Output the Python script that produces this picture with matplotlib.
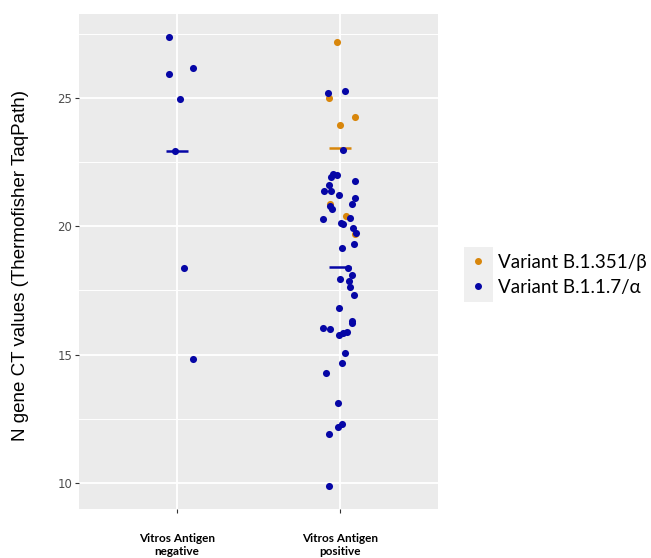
import numpy as np
import matplotlib
matplotlib.use("Agg")
import matplotlib.pyplot as plt
from matplotlib.lines import Line2D
from matplotlib.patches import Rectangle

# ---------------------------------
# Data
# ---------------------------------
categories = ["Vitros Antigen\nnegative", "Vitros Antigen\npositive"]

neg_alpha_ct = [27.37, 26.19, 25.95, 24.97, 22.95, 18.37, 14.81]
neg_alpha_jit = [-0.05, 0.10, -0.05, 0.02, -0.01, 0.045, 0.096]

pos_beta_ct = [27.2, 25.01, 24.26, 23.95, 20.86, 20.41, 19.71]
pos_beta_jit = [-0.02, -0.07, 0.09, 0.0, -0.063, 0.037, 0.09]

pos_alpha_ct = [25.19, 25.26, 22.99, 22.03, 21.99, 21.93, 21.76, 21.63, 21.37, 21.37,
                21.21, 21.10, 20.86, 20.81, 20.68, 20.28, 20.33, 20.12, 20.10, 19.95,
                19.75, 19.33, 19.16, 18.37, 18.09, 17.95, 17.87, 17.62, 17.32, 16.82,
                16.31, 16.23, 16.05, 16.01, 15.88, 15.84, 15.78, 15.07, 14.66, 14.27,
                13.12, 12.28, 12.19, 11.89, 9.86]
pos_alpha_jit = [-0.072, 0.029, 0.018, -0.045, -0.017, -0.055, 0.09, -0.069, -0.1, -0.055,
                 -0.006, 0.092, 0.074, -0.06, -0.047, -0.102, 0.059, 0.004, 0.018, 0.078,
                 0.096, 0.084, 0.014, 0.051, 0.074, 0.002, 0.054, 0.059, 0.088, -0.006,
                 0.076, 0.074, -0.102, -0.06, 0.041, 0.018, -0.006, 0.029, 0.014, -0.088,
                 -0.01, 0.01, -0.01, -0.069, -0.065]

legend_labels = ["Variant B.1.351/\u03b2", "Variant B.1.1.7/\u03b1"]
BETA_COL = "#D8860B"
ALPHA_COL = "#0606A6"

# ---------------------------------
# Figure
# ---------------------------------
W, H = 651, 558
fig = plt.figure(figsize=(W / 100, H / 100), dpi=100)
ax = fig.add_axes([79 / W, 1 - 509 / H, (438 - 79) / W, (509 - 14) / H])

ax.set_facecolor("#EBEBEB")
for s in ax.spines.values():
    s.set_visible(False)

ax.set_xlim(0.4, 2.6)
ax.set_ylim(8.98, 28.28)
ax.set_xticks([1, 2])
ax.set_xticklabels(categories, fontsize=8.5, fontweight="bold", family=["Lato", "DejaVu Sans"],
                   linespacing=1.3)
ax.set_yticks([10, 15, 20, 25])
ax.set_yticks([12.5, 17.5, 22.5, 27.5], minor=True)
ax.tick_params(axis="y", which="major", labelsize=8.5, labelcolor="#4D4D4D",
               color="#333333", length=3, width=0.8, pad=2)
ax.tick_params(axis="y", which="minor", length=0)
ax.tick_params(axis="x", length=3, width=0.8, color="#333333", pad=14)
ax.grid(which="major", color="white", linewidth=1.3)
ax.grid(which="minor", axis="y", color="white", linewidth=0.7)
ax.set_axisbelow(True)

# mean bars
def mean_bar(xc, vals, col):
    m = np.mean(vals)
    ax.plot([xc - 0.067, xc + 0.067], [m, m], color=col, lw=1.8, solid_capstyle="butt", zorder=2)

mean_bar(1, neg_alpha_ct, ALPHA_COL)
mean_bar(2, pos_beta_ct, BETA_COL)
mean_bar(2, pos_alpha_ct, ALPHA_COL)

ax.scatter(2 + np.array(pos_beta_jit), pos_beta_ct, s=26, color=BETA_COL, linewidths=0, zorder=3)
ax.scatter(1 + np.array(neg_alpha_jit), neg_alpha_ct, s=26, color=ALPHA_COL, linewidths=0, zorder=4)
ax.scatter(2 + np.array(pos_alpha_jit), pos_alpha_ct, s=26, color=ALPHA_COL, linewidths=0, zorder=4)

fig.text(21 / W, 1 - 266 / H, "N gene CT values (Thermofisher TaqPath)", rotation=90,
         ha="center", va="center", fontsize=13.5, family=["Liberation Sans", "DejaVu Sans"])

# legend
fig.patches.append(Rectangle((464 / W, 1 - 302 / H), 29 / W, 55 / H, transform=fig.transFigure,
                             facecolor="#EFEFEF", edgecolor="none", zorder=0))
handles = [Line2D([], [], ls="none", marker="o", markersize=4, color=BETA_COL),
           Line2D([], [], ls="none", marker="o", markersize=4, color=ALPHA_COL)]
fig.legend(handles, legend_labels, loc="center left", bbox_to_anchor=(469 / W, 1 - 275 / H),
           frameon=False, borderpad=0, borderaxespad=0, handlelength=1.0, handletextpad=0.55,
           labelspacing=0.42, prop={"family": ["Lato", "DejaVu Sans"], "size": 13.5})

fig.savefig("out.png", dpi=100)
